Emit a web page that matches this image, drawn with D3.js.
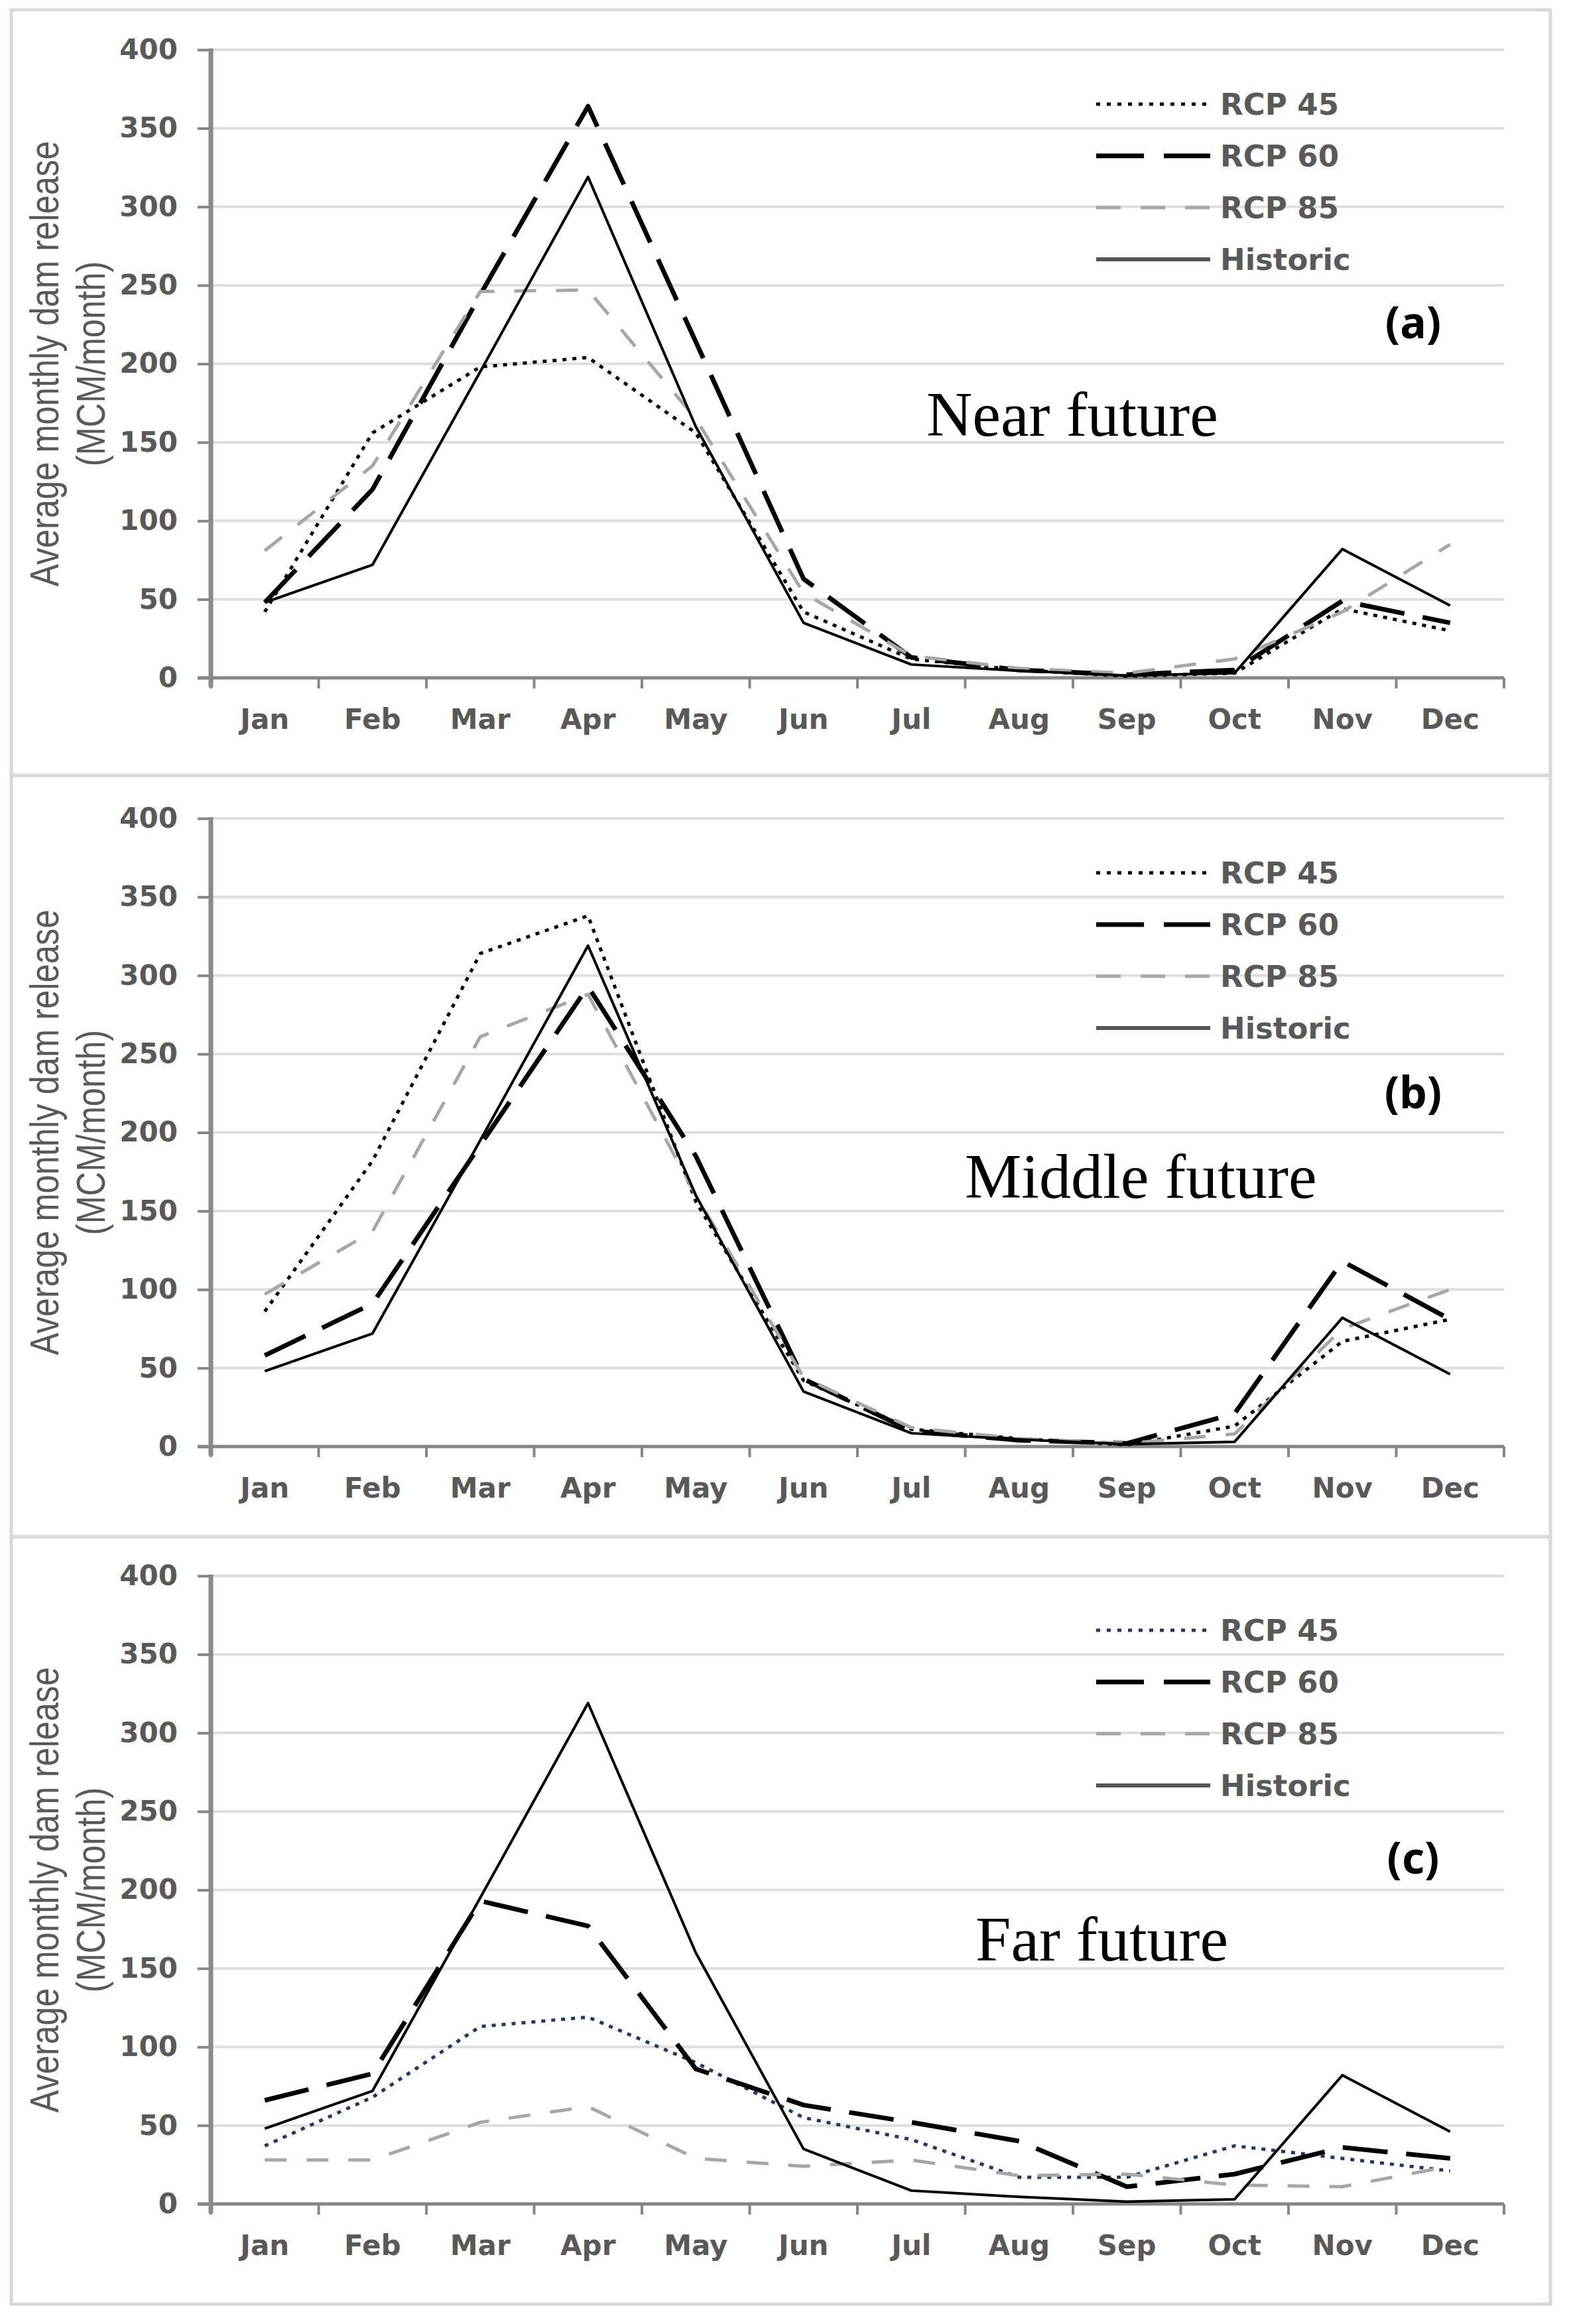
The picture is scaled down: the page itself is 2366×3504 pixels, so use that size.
<html>
<head>
	<script src="https://d3js.org/d3.v7.min.js"></script>
	<title>Average monthly dam release</title>
	<style type="text/css">
		body {
			margin: 0;
			background: #fff;
		}
		.tick text, .lab {
			font-family: "DejaVu Sans", Verdana, sans-serif;
			font-weight: bold;
			fill: #595959;
		}
	</style>
</head>
<body>

<div id="chart"></div>

<script>

// values (MCM/month)
var months = ["Jan", "Feb", "Mar", "Apr", "May", "Jun", "Jul", "Aug", "Sep", "Oct", "Nov", "Dec"];
var historic = [48, 72, 195, 319, 160, 35, 8.5, 4.5, 1.5, 3, 82, 46];

var nearRcp45 = [42, 156, 198, 204, 156, 42, 12, 5, 1, 3, 44, 30];
var nearRcp60 = [48, 120, 244, 364, 214, 63, 13, 5, 2, 5, 49, 35];
var nearRcp85 = [81, 135, 246, 247, 165, 54, 14, 6, 3, 12, 42, 85];

var midRcp45 = [86, 182, 314, 338, 156, 42, 11, 5, 1, 13, 67, 81];
var midRcp60 = [58, 91, 192, 293, 185, 43, 10, 4, 2, 21, 118, 81];
var midRcp85 = [97, 137, 261, 288, 160, 44, 12, 5, 2, 8, 75, 100];

var farRcp45 = [37, 68, 113, 119, 90, 55, 41, 17, 17, 37, 29, 21];
var farRcp60 = [66, 83, 193, 177, 86, 63, 52, 40, 11, 19, 36, 29];
var farRcp85 = [28, 28, 52, 62, 29, 24, 28, 18, 19, 12, 11, 24];

var yTicks = [0, 50, 100, 150, 200, 250, 300, 350, 400];
var seriesNames = ["RCP 45", "RCP 60", "RCP 85", "Historic"];
var periodTitles = ["Near future", "Middle future", "Far future"];
var panelLetters = ["(a)", "(b)", "(c)"];

var W = 2366, H = 3504;

var svg = d3.select("#chart").append("svg")
	.attr("width", W)
	.attr("height", H);

svg.append("rect").attr("width", W).attr("height", H).attr("fill", "#fff");

// layout for the three stacked panels
var boxTops = [15, 1169, 2317, 3474];
var plotTops = [75, 1234, 2376];
var plotH = 947;
var x0 = 318, x1 = 2268;
var titleX = [1397, 1455, 1471];
var titleDy = [582, 572, 580];
var letterDy = [412, 414, 426];

var panels = [
	{ rcp: [nearRcp45, nearRcp60, nearRcp85], dotColor: "#000" },
	{ rcp: [midRcp45, midRcp60, midRcp85], dotColor: "#000" },
	{ rcp: [farRcp45, farRcp60, farRcp85], dotColor: "#203864" }
];

var x = d3.scaleBand().domain(months).range([x0, x1]);

function styles(p) {
	return [
		{ stroke: p.dotColor, width: 5, dash: "6,9" },
		{ stroke: "#000", width: 7, dash: "68,28" },
		{ stroke: "#a6a6a6", width: 5, dash: "33,30" },
		{ stroke: "#000", width: 4, dash: null }
	];
}

panels.forEach(function(p, i) {
	var top = plotTops[i];
	var y = d3.scaleLinear().domain([0, 400]).range([top + plotH, top]);
	var g = svg.append("g");

	// panel frame
	g.append("rect")
		.attr("x", 17).attr("y", boxTops[i])
		.attr("width", 2321).attr("height", boxTops[i + 1] - boxTops[i])
		.attr("fill", "none")
		.attr("stroke", "#d9d9d9")
		.attr("stroke-width", 5);

	// gridlines
	g.selectAll(".grid").data(yTicks.slice(1)).enter().append("line")
		.attr("x1", x0).attr("x2", x1)
		.attr("y1", function(d) { return y(d); })
		.attr("y2", function(d) { return y(d); })
		.attr("stroke", "#dedede")
		.attr("stroke-width", 4);

	// y axis
	var ya = g.append("g")
		.attr("transform", "translate(" + x0 + ",0)")
		.call(d3.axisLeft(y).tickValues(yTicks).tickSize(20).tickPadding(30));
	ya.select(".domain").remove();
	ya.selectAll(".tick line").attr("stroke", "#868686").attr("stroke-width", 4);
	ya.selectAll(".tick text").style("font-size", "42px");

	// x axis labels
	var xa = g.append("g")
		.attr("transform", "translate(0," + (top + plotH) + ")")
		.call(d3.axisBottom(x).tickSize(0).tickPadding(47));
	xa.select(".domain").remove();
	xa.selectAll(".tick text").style("font-size", "42px");

	// x tick marks on the band edges
	var edges = months.map(function(m) { return x(m); }).concat([x.range()[1]]);
	g.selectAll(".edge").data(edges).enter().append("line")
		.attr("x1", function(d) { return d; })
		.attr("x2", function(d) { return d; })
		.attr("y1", top + plotH)
		.attr("y2", top + plotH + 16)
		.attr("stroke", "#868686")
		.attr("stroke-width", 4);

	// axis lines
	g.append("line")
		.attr("x1", x0 - 20).attr("x2", x1)
		.attr("y1", y(0)).attr("y2", y(0))
		.attr("stroke", "#868686").attr("stroke-width", 5);
	g.append("line")
		.attr("x1", x0).attr("x2", x0)
		.attr("y1", y(400) - 2).attr("y2", y(0) + 14)
		.attr("stroke", "#8a8a8a").attr("stroke-width", 7);

	// y axis title (narrow face, squeezed along the baseline)
	var cy = top + plotH / 2;
	var yt = g.append("text")
		.attr("transform", "translate(0," + cy + ") rotate(-90) scale(0.83,1)")
		.attr("text-anchor", "middle")
		.style("font-family", "'Liberation Sans', Arial, sans-serif")
		.style("font-size", "61px")
		.attr("fill", "#595959");
	yt.append("tspan").attr("x", 0).attr("y", 88).text("Average monthly  dam release");
	yt.append("tspan").attr("x", 0).attr("y", 158).text("(MCM/month)");

	// series
	var st = styles(p);
	var all = p.rcp.concat([historic]);
	var line = d3.line()
		.x(function(d, k) { return x(months[k]) + x.bandwidth() / 2; })
		.y(function(d) { return y(d); });

	all.forEach(function(vals, k) {
		g.append("path")
			.datum(vals)
			.attr("d", line)
			.attr("fill", "none")
			.attr("stroke", st[k].stroke)
			.attr("stroke-width", st[k].width)
			.attr("stroke-dasharray", st[k].dash)
			.attr("stroke-linejoin", "round");
	});

	// legend
	var lg = g.selectAll(".leg").data(seriesNames).enter().append("g")
		.attr("transform", function(d, k) { return "translate(1653," + (top + 82 + k * 78) + ")"; });
	lg.append("line")
		.attr("x1", 0).attr("x2", 172)
		.attr("stroke", function(d, k) { return k === 3 ? "#555" : st[k].stroke; })
		.attr("stroke-width", function(d, k) { return k === 3 ? 6 : st[k].width; })
		.attr("stroke-dasharray", function(d, k) { return ["6,10", "72,30", "37,30", null][k]; });
	lg.append("text")
		.attr("class", "lab")
		.attr("x", 187)
		.attr("dy", "0.36em")
		.style("font-size", "45px")
		.text(function(d) { return d; });

	// panel letter and period title
	g.append("text")
		.attr("x", 2131).attr("y", top + letterDy[i])
		.attr("dy", "0.35em")
		.attr("text-anchor", "middle")
		.style("font-family", "'Noto Sans', 'Open Sans', sans-serif")
		.style("font-weight", "bold")
		.style("font-size", "66px")
		.attr("fill", "#000")
		.text(panelLetters[i]);

	g.append("text")
		.attr("x", titleX[i]).attr("y", top + titleDy[i])
		.style("font-family", "'Liberation Serif', 'Times New Roman', serif")
		.style("font-size", "96px")
		.attr("fill", "#000")
		.text(periodTitles[i]);
});

</script>
</body>
</html>
